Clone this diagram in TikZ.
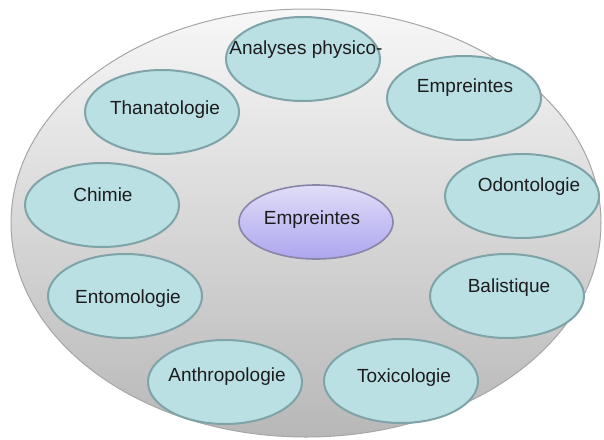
\documentclass[tikz,border=0pt]{standalone}
\usepackage{fontspec}
\setmainfont{Liberation Sans}
\usetikzlibrary{shapes.geometric,positioning}

\definecolor{teal fill}{HTML}{BBE0E4}
\definecolor{teal line}{HTML}{7FA3A6}
\definecolor{lilac top}{HTML}{E0DDF8}
\definecolor{lilac bottom}{HTML}{ADA6EE}
\definecolor{lilac line}{HTML}{8985A6}
\definecolor{ink}{HTML}{1C1C1C}

\begin{document}
\begin{tikzpicture}[x=0.5pt,y=-0.5pt]
		\useasboundingbox (0,0) rectangle (604,439);

		\node[ellipse,draw=black!35,line width=0.5pt,top color=black!3,middle color=black!9,bottom color=black!28,
			minimum width=295pt,minimum height=214pt,inner sep=0pt] (disc) at (306,223) {};

		\begin{scope}[every node/.style={ellipse,draw=teal line,fill=teal fill,line width=1pt,
				minimum width=77pt,minimum height=42pt,inner sep=0pt}]
			\node (ana) at (303,59) {};
			\node (emp) at (464,98) {};
			\node (odo) at (522,196) {};
			\node (bal) at (507,296) {};
			\node (tox) at (401,381) {};
			\node (ant) at (225,382) {};
			\node (ent) at (125,296) {};
			\node (chi) at (102,205) {};
			\node (tha) at (162,112) {};
		\end{scope}
		\node[ellipse,draw=lilac line,line width=0.8pt,top color=lilac top,bottom color=lilac bottom,
			minimum width=77pt,minimum height=37pt,inner sep=0pt] (mid) at (316,222) {};

		\begin{scope}[every node/.style={text=ink,font=\fontsize{9.5}{11}\selectfont,inner sep=0pt}]
			\node (tana) at (306,50) {Analyses physico-};
			\node (temp) at (465,88) {Empreintes};
			\node (todo) at (529,187) {Odontologie};
			\node (tbal) at (509,288) {Balistique};
			\node (ttox) at (404,378) {Toxicologie};
			\node (tant) at (227,377) {Anthropologie};
			\node (tent) at (128,299) {Entomologie};
			\node (tchi) at (103,195) {Chimie};
			\node (ttha) at (165,110) {Thanatologie};
			\node (tmid) at (312,220) {Empreintes};
		\end{scope}
	\end{tikzpicture}
\end{document}
